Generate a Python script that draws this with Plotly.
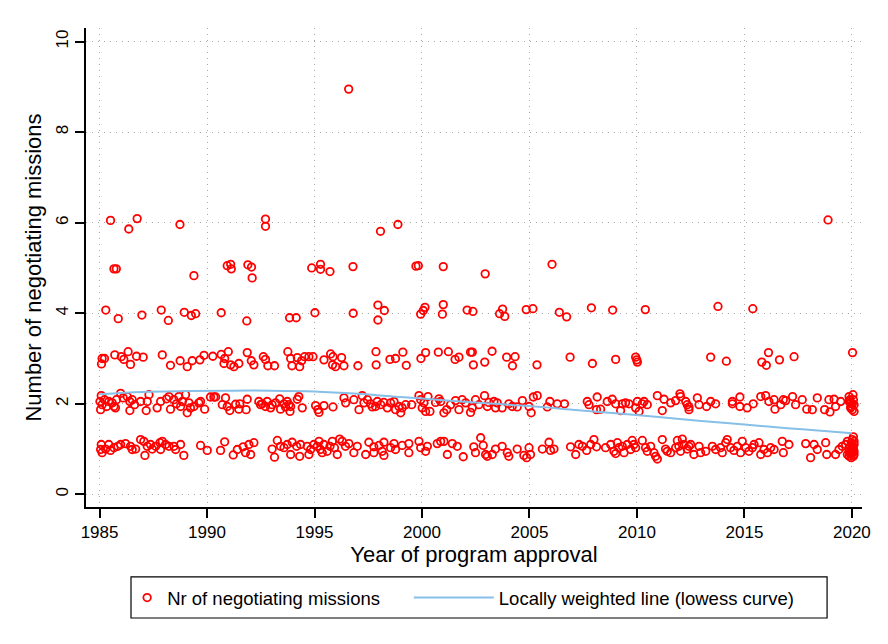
import plotly.graph_objects as go

# ---------------- data ----------------
# value level ~1
yr_1 = [1985.08,1985.05,1985.12,1985.28,1985.43,1985.51,1985.67,1985.85,1985.98,1986.21,1986.44,1986.52,1986.68,1986.91,1987.06,1987.11,1987.22,1987.37,1987.45,1987.61,1987.81,1987.84,1987.92,1988.07,1988.23,1988.46,1988.54,1988.77,1988.92,1989.70,1990.01,1990.63,1990.82,1991.22,1991.41,1991.68,1991.79,1991.95,1992.03,1992.18,1993.03,1993.14,1993.27,1993.42,1993.58,1993.73,1993.89,1993.96,1994.17,1994.31,1994.35,1994.66,1994.74,1994.82,1994.97,1995.13,1995.21,1995.28,1995.36,1995.44,1995.59,1995.72,1995.83,1995.93,1996.06,1996.17,
        1996.29,1996.44,1996.60,1996.83,1996.99,1997.38,1997.53,1997.76,1997.76,1998.00,1998.15,1998.23,1998.23,1998.54,1998.70,1998.77,1999.08,1999.39,1999.39,1999.86,1999.94,2000.17,2000.25,2000.71,2000.87,2001.02,2001.18,2001.41,2001.64,2001.92,2002.41,2002.49,2002.73,2002.85,2002.96,2003.04,2003.27,2003.42,2003.73,2003.97,2004.04,2004.43,2004.74,2004.87,2004.98,2005.05,2005.60,2005.91,2005.98,2006.14,2006.91,2007.15,2007.30,2007.46,2007.66,2007.85,2008.00,2008.12,
        2008.54,2008.78,2008.93,2009.01,2009.09,2009.16,2009.32,2009.40,2009.55,2009.71,2009.78,2009.86,2009.94,2010.25,2010.40,2010.48,2010.64,2010.79,2010.87,2010.95,2011.18,2011.33,2011.41,2011.57,2011.80,2011.88,2011.95,2012.03,2012.11,2012.19,2012.34,2012.42,2012.50,2012.65,2012.89,2012.96,2013.20,2013.51,2013.66,2013.89,2013.97,2014.13,2014.20,2014.36,2014.51,2014.67,2014.82,2014.90,2015.06,2015.21,2015.37,2015.45,2015.68,2015.76,2015.91,2016.07,2016.22,2016.38,2016.76,2016.81,2017.07,2017.85,2018.08,2018.24,2018.39,2018.78,2018.83,2019.24,2019.40,2019.55,
        2019.71,2019.79,2019.87,2019.94,2020.02,2020.07,2020.10,2020.02,2019.91,2019.97,2020.10,2019.87,2020.07,2019.97,2020.05,2020.10,2019.94,2019.87,2019.79,2020.02,2020.10,2020.07]
val_1 = [1.10,0.99,0.92,1.00,1.10,0.97,1.03,1.06,1.10,1.12,1.06,0.99,1.00,1.21,1.17,0.86,1.06,1.10,1.00,1.06,1.14,0.99,1.17,1.10,1.06,1.06,0.99,1.10,0.86,1.08,0.97,0.97,1.16,0.87,0.99,1.05,0.92,1.10,0.88,1.14,1.00,0.82,1.19,1.06,1.03,1.10,0.88,1.15,1.06,0.84,1.10,1.06,0.88,0.99,1.10,1.06,1.17,0.99,0.92,1.10,0.95,1.06,1.17,1.03,0.88,1.22,
         1.17,1.06,1.12,0.92,1.06,0.88,1.15,1.05,0.92,1.08,0.95,1.15,0.86,1.03,1.12,0.99,1.08,1.12,0.92,1.17,1.03,0.95,1.06,1.12,1.17,1.17,0.88,1.12,1.06,0.83,1.05,0.92,1.25,1.08,0.88,0.84,0.88,1.00,1.06,0.92,0.84,1.00,0.86,0.81,1.03,0.88,1.00,1.15,0.97,1.00,1.05,0.88,1.10,1.06,0.97,1.10,1.21,1.05,
         1.03,1.10,0.95,0.90,1.14,1.03,1.06,0.92,1.10,0.99,1.19,1.10,1.03,1.19,1.03,0.95,1.06,0.92,0.84,0.78,1.21,1.00,0.95,0.92,1.03,1.19,1.06,0.95,1.22,1.10,1.00,1.06,1.10,0.88,1.06,0.92,0.95,1.06,0.99,1.03,0.92,1.14,1.21,1.03,0.97,1.06,0.92,1.17,1.03,0.95,1.03,1.10,1.14,0.88,0.99,0.92,1.03,0.99,1.17,0.92,1.10,1.12,0.81,1.10,0.99,1.14,0.88,0.88,0.99,1.06,
         1.10,1.17,1.03,0.92,1.21,0.84,1.10,0.99,0.90,0.81,0.95,0.84,1.27,1.14,1.05,0.88,1.06,0.95,0.88,0.92,1.17,1.00]

# value level ~2
yr_2 = [1985.08,1985.02,1985.12,1985.05,1985.23,1985.33,1985.43,1985.59,1985.67,1985.79,1985.74,1985.98,1986.10,1986.29,1986.41,1986.52,1986.41,1986.63,1986.91,1987.17,1987.22,1987.30,1987.68,1987.84,1988.12,1988.23,1988.30,1988.46,1988.58,1988.69,1988.85,1988.77,1989.00,1989.08,1989.16,1989.23,1989.39,1989.62,1989.89,1989.70,1990.16,1990.32,1990.40,1990.71,1990.86,1990.94,1991.06,1991.33,1991.48,1991.53,1991.82,1991.87,1992.41,1992.49,1992.57,1992.72,1992.80,1992.96,1993.03,1993.19,1993.38,1993.42,1993.58,1993.65,1993.73,1993.81,1993.86,1993.89,1994.20,1994.27,1994.43,1995.05,1995.16,1995.21,1995.44,1995.86,
        1996.37,1996.45,1996.83,1997.07,1997.22,1997.30,1997.46,1997.61,1997.69,1997.84,1997.92,1998.08,1998.23,1998.39,1998.54,1998.70,1998.77,1998.93,1999.01,1999.08,1999.24,1999.52,1999.86,1999.94,2000.01,2000.09,2000.17,2000.28,2000.37,2000.63,2000.79,2000.87,2001.02,2001.15,2001.33,2001.56,2001.72,2001.87,2002.03,2002.26,2002.34,2002.49,2002.65,2002.91,2003.04,2003.11,2003.35,2003.42,2003.50,2003.73,2004.04,2004.20,2004.43,2004.67,2004.98,2005.08,2005.18,2005.36,2005.83,2005.95,2006.29,2006.63,2007.69,2007.77,2008.12,2008.15,2008.31,
        2008.62,2008.85,2009.01,2009.24,2009.32,2009.47,2009.63,2009.94,2010.02,2010.10,2010.25,2010.33,2010.48,2010.95,2011.18,2011.26,2011.57,2011.80,2012.00,2012.03,2012.27,2012.34,2012.42,2012.42,2012.81,2012.89,2013.24,2013.43,2013.66,2014.44,2014.44,2014.79,2014.79,2015.13,2015.41,2015.76,2015.99,2016.14,2016.38,2016.42,2016.69,2016.81,2016.92,2017.24,2017.38,2017.69,2017.90,2018.16,2018.39,2018.73,2018.93,2018.98,2019.17,2019.24,2019.48,
        2019.87,2019.94,2019.97,2020.02,2020.07,2020.10,2020.05,2019.91,2020.02,2019.94,2020.10,2019.87]
val_2 = [2.18,2.05,1.98,1.87,2.09,1.94,2.05,2.02,1.94,2.09,1.91,2.23,2.13,2.16,2.05,2.09,1.85,1.98,2.05,1.85,2.05,2.20,1.91,2.05,2.11,2.16,1.88,2.09,2.00,2.16,2.05,1.94,2.20,1.80,2.02,1.91,1.94,2.02,1.88,2.05,2.15,2.15,2.15,1.98,2.13,1.94,1.85,1.99,1.88,2.00,1.87,2.10,2.05,1.98,2.00,1.94,2.05,1.91,1.98,2.02,2.11,1.88,2.00,1.93,2.05,1.98,1.83,1.94,2.10,2.16,1.91,1.96,1.87,1.81,1.96,1.93,
         2.13,2.02,2.09,1.87,2.18,2.02,2.09,2.00,1.93,1.94,2.05,1.98,2.03,1.91,2.02,2.05,1.87,1.94,1.80,1.91,1.98,1.98,2.18,2.09,1.91,2.02,1.83,2.16,1.83,2.03,2.11,2.05,1.80,1.87,1.98,2.07,1.87,2.09,2.02,1.81,1.91,2.09,1.98,2.18,1.94,2.03,2.05,1.91,2.02,1.91,2.00,1.94,1.93,2.07,1.94,1.80,2.15,2.18,1.93,2.05,2.00,2.00,2.05,1.98,1.87,2.15,1.88,
         2.05,2.10,2.00,1.85,2.00,2.02,2.00,1.91,2.05,1.83,2.00,2.05,1.98,2.18,1.85,2.10,2.02,2.07,2.22,2.16,2.05,1.98,1.87,1.93,2.13,1.98,1.94,2.05,2.00,2.00,2.05,2.15,1.94,1.91,2.00,2.16,2.18,2.05,2.09,1.88,1.98,2.09,2.07,2.16,1.98,2.09,1.88,1.87,2.13,1.87,2.09,1.82,2.10,1.94,2.05,
         2.16,2.02,1.94,1.87,2.09,1.83,2.20,2.09,2.00,1.91,1.98,2.05]

# value level ~3
yr_3 = [1985.12,1985.09,1985.23,1985.71,1986.01,1986.13,1986.33,1986.44,1986.72,1987.03,1987.92,1988.30,1988.75,1989.08,1989.31,1989.67,1989.86,1990.27,1990.66,1990.82,1990.99,1990.79,1991.10,1991.25,1991.48,1991.87,1992.06,1992.18,1992.62,1992.72,1992.83,1993.14,1993.76,1993.89,1993.95,1994.20,1994.31,1994.40,1994.54,1994.74,1994.93,1995.44,1995.75,1995.86,1995.84,1995.98,1996.26,1996.37,1997.02,
        1997.86,1997.87,1998.51,1998.77,1999.11,1999.27,1999.95,2000.17,2000.76,2001.23,2001.54,2001.72,2002.26,2002.34,2002.39,2002.92,2003.26,2003.94,2004.21,2004.33,2005.35,2006.89,2007.93,2009.01,
        2009.94,2009.99,2010.02,2013.43,2014.16,2015.81,2016.02,2016.12,2016.63,2017.31,2020.03]
val_3 = [3.00,2.88,3.00,3.08,3.04,2.98,3.15,2.87,3.05,3.03,3.08,2.85,2.95,2.82,2.95,2.97,3.07,3.05,3.09,3.00,3.15,2.89,2.86,2.82,2.89,3.13,2.95,2.86,3.04,2.98,2.84,2.84,3.15,3.00,2.84,3.02,2.82,2.95,3.04,3.04,3.04,2.97,3.10,3.04,2.86,2.82,3.02,2.84,2.84,
         3.15,2.86,2.98,3.00,3.14,2.85,3.00,3.13,3.14,3.15,2.98,3.03,3.14,3.14,2.86,2.92,3.16,3.03,2.84,3.04,2.86,3.03,2.89,2.98,
         3.03,2.97,2.92,3.03,2.94,2.92,2.85,3.13,2.97,3.04,3.13]

# value level ~4
yr_4 = [1985.29,1985.87,1986.97,1987.87,1988.20,1988.94,1989.27,1989.47,1990.66,1991.85,1993.84,1994.15,1995.02,1996.80,1997.95,1998.25,1997.95,1999.94,2000.06,2000.14,2000.95,2000.99,2002.10,2002.37,2003.61,2003.75,2003.85,2004.85,2005.16,2006.39,2006.73,2007.88,2008.87,2010.39,2013.77,2015.39]
val_4 = [4.07,3.88,3.96,4.07,3.84,4.02,3.95,3.99,4.01,3.83,3.90,3.90,4.01,4.00,4.18,4.06,3.85,3.98,4.06,4.13,3.98,4.19,4.07,4.04,3.99,4.09,3.93,4.08,4.10,4.02,3.92,4.12,4.07,4.08,4.15,4.10]

# value level ~5
yr_5 = [1985.67,1985.78,1989.39,1990.94,1991.10,1991.13,1991.90,1992.07,1992.10,1994.87,1995.28,1995.28,1995.72,1996.79,1999.72,1999.83,2000.99,2002.94,2006.05]
val_5 = [4.98,4.98,4.83,5.05,5.08,4.98,5.07,5.02,4.78,5.00,5.08,4.97,4.92,5.03,5.04,5.05,5.03,4.87,5.08]

# value levels ~6 and ~9
yr_6 = [1985.51,1986.75,1986.36,1988.74,1992.72,1992.72,1998.07,1998.88,2018.89,1996.59]
val_6 = [6.05,6.09,5.86,5.96,6.08,5.92,5.81,5.96,6.06,8.95]

# lowess curve
lw_year = [1985, 1987, 1989, 1991, 1993, 1995, 1997, 1999, 2001, 2003, 2005, 2007, 2009, 2011, 2013, 2015, 2017, 2019, 2020]
lw_val = [2.21, 2.26, 2.28, 2.29, 2.29, 2.27, 2.22, 2.15, 2.08, 2.01, 1.95, 1.87, 1.79, 1.71, 1.62, 1.54, 1.46, 1.39, 1.35]

x_ticks = [1985, 1990, 1995, 2000, 2005, 2010, 2015, 2020]
y_ticks = [0, 2, 4, 6, 8, 10]

years = yr_1 + yr_2 + yr_3 + yr_4 + yr_5 + yr_6
values = val_1 + val_2 + val_3 + val_4 + val_5 + val_6

FONT = "Liberation Sans, Arial, Helvetica, sans-serif"

fig = go.Figure()
fig.add_trace(go.Scatter(
    x=years, y=values, mode="markers",
    name="Nr of negotiating missions",
    marker=dict(symbol="circle-open", size=7.5, color="#ff0000", line=dict(width=1.8, color="#ff0000")),
    legend="legend",
))
fig.add_trace(go.Scatter(
    x=lw_year, y=lw_val, mode="lines", line_shape="spline",
    name="Locally weighted line (lowess curve)",
    line=dict(color="#86bfe8", width=2),
    legend="legend2",
))

GRID = dict(showgrid=True, gridcolor="#a8a8a8", griddash="1px,5px", gridwidth=1)

fig.update_layout(
    width=888, height=644,
    margin=dict(l=86, r=26, t=28, b=137),
    paper_bgcolor="white", plot_bgcolor="white",
    font=dict(family=FONT, color="black"),
    xaxis=dict(
        range=[1984.37, 2020.47], tickvals=x_ticks, ticktext=[str(v) for v in x_ticks],
        showline=True, linecolor="black", linewidth=2, mirror=False,
        ticks="outside", ticklen=9, tickwidth=1.5, tickcolor="black",
        tickfont=dict(size=17),
        zeroline=False,
        title=dict(text="Year of program approval", font=dict(size=22), standoff=3),
        **GRID,
    ),
    yaxis=dict(
        range=[-0.28, 10.3], tickvals=y_ticks, ticktext=[str(v) for v in y_ticks],
        showline=True, linecolor="black", linewidth=2,
        ticks="outside", ticklen=9, tickwidth=1.5, tickcolor="black",
        tickfont=dict(size=17), tickangle=-90,
        zeroline=False,
        title=dict(text="Number of negotiating missions", font=dict(size=22), standoff=6),
        **GRID,
    ),
    legend=dict(
        x=0.053, y=-0.19, xanchor="left", yanchor="middle",
        orientation="h", font=dict(size=18.5), itemwidth=30,
        bgcolor="rgba(0,0,0,0)",
    ),
    legend2=dict(
        x=0.416, y=-0.19, xanchor="left", yanchor="middle",
        orientation="h", font=dict(size=18.5), itemwidth=80,
        bgcolor="rgba(0,0,0,0)",
    ),
    showlegend=True,
)

# legend frame
fig.add_shape(type="rect", xref="paper", yref="paper",
              x0=0.058, x1=0.955, y0=-0.2317, y1=-0.146,
              line=dict(color="black", width=1.2), fillcolor="rgba(0,0,0,0)", layer="below")

fig.write_html("out.html")
